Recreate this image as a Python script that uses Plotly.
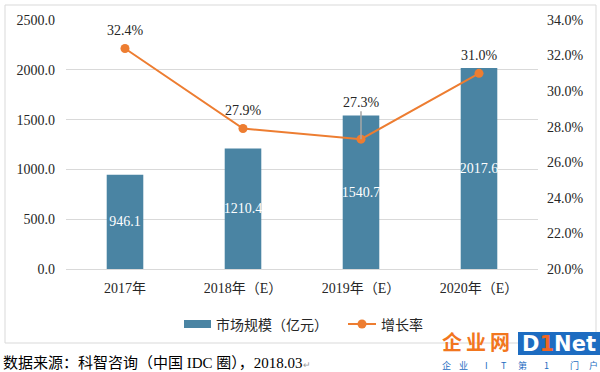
import plotly.graph_objects as go

categories = ["2017年", "2018年（E）", "2019年（E）", "2020年（E）"]
market_size = [946.1, 1210.4, 1540.7, 2017.6]
growth_rate = [32.4, 27.9, 27.3, 31.0]
bar_name = "市场规模（亿元）"
line_name = "增长率"
source_text = "数据来源：科智咨询（中国 IDC 圈），2018.03"
logo_cn = ["企", "业", "网"]
logo_en = "D<span style='color:#F26522'>1</span>Net"
logo_sub = ["企", "业", "I", "T", "第", "1", "门", "户"]

BAR_COLOR = "#4A84A3"
LINE_COLOR = "#ED7D31"
TEXT_COLOR = "#262626"
GRID = "#D9D9D9"
LOGO_BLUE = "#1D6CC1"
SERIF = "'Liberation Serif', 'Times New Roman', serif"
SANS = "'Noto Sans CJK SC', sans-serif"

W, H = 600, 372
L, R, T, B = 66, 538, 20, 269


def px2x(px):
    return (px - L) / (R - L)


def py2y(py):
    return (B - py) / (B - T)


fig = go.Figure()
fig.add_trace(go.Bar(
    x=categories, y=market_size, name=bar_name,
    marker=dict(color=BAR_COLOR, line=dict(width=0)),
    texttemplate="%{y:.1f}", textposition="inside", insidetextanchor="middle",
    textangle=0,
    textfont=dict(family=SERIF, size=14, color="white"),
    showlegend=False, yaxis="y", hoverinfo="skip",
))
fig.add_trace(go.Scatter(
    x=categories, y=growth_rate, name=line_name, mode="lines+markers",
    line=dict(color=LINE_COLOR, width=2),
    marker=dict(color=LINE_COLOR, size=9),
    showlegend=False, yaxis="y2", hoverinfo="skip",
))

annotations = []
for i, (c, v) in enumerate(zip(categories, growth_rate)):
    if i == 2:
        annotations.append(dict(
            x=c, y=v, xref="x", yref="y2", text=f"{v:.1f}%",
            showarrow=True, ax=0, ay=-37, arrowhead=0, arrowwidth=1.5,
            arrowcolor="#A6A6A6", standoff=0,
            font=dict(family=SERIF, size=14, color=TEXT_COLOR),
        ))
    else:
        annotations.append(dict(
            x=c, y=v, xref="x", yref="y2", text=f"{v:.1f}%",
            showarrow=False, yshift=18,
            font=dict(family=SERIF, size=14, color=TEXT_COLOR),
        ))

# legend (manual)
legend_y = py2y(324)
annotations.append(dict(
    x=px2x(214), y=legend_y, xref="paper", yref="paper", text=bar_name,
    showarrow=False, xanchor="left", yanchor="middle",
    font=dict(family=SANS, size=14, color=TEXT_COLOR),
))
annotations.append(dict(
    x=px2x(379), y=legend_y, xref="paper", yref="paper", text=line_name,
    showarrow=False, xanchor="left", yanchor="middle",
    font=dict(family=SANS, size=14, color=TEXT_COLOR),
))
# source footer
annotations.append(dict(
    x=px2x(1), y=py2y(362), xref="paper", yref="paper",
    text=source_text + "<span style='font-size:9px;color:#999'>↵</span>",
    showarrow=False, xanchor="left", yanchor="middle",
    font=dict(family=SERIF + ", 'Noto Sans CJK SC'", size=15, color="#000000"),
))
# watermark logo
for ch, cx in zip(logo_cn, [452, 476, 500]):
    annotations.append(dict(
        x=px2x(cx), y=py2y(341.5), xref="paper", yref="paper",
        text=f"<b>{ch}</b>", showarrow=False, xanchor="center", yanchor="middle",
        borderpad=0,
        font=dict(family=SANS, size=20, color="#F2761E"),
    ))
annotations.append(dict(
    x=px2x(559), y=py2y(343.5), xref="paper", yref="paper",
    text=f"<b>{logo_en}</b>", showarrow=False,
    xanchor="center", yanchor="middle", borderpad=0,
    font=dict(family="'DejaVu Sans', sans-serif", size=21, color="white"),
))
sub_centers = [446, 463, 486, 503.5, 522, 546, 574, 593]
for ch, cx in zip(logo_sub, sub_centers):
    annotations.append(dict(
        x=px2x(cx), y=py2y(365.5), xref="paper", yref="paper",
        text=ch, showarrow=False, xanchor="center", yanchor="middle",
        borderpad=0,
        font=dict(family=SANS, size=9, color=LOGO_BLUE),
    ))

shapes = [
    # outer border
    dict(type="rect", xref="paper", yref="paper",
         x0=px2x(5), x1=px2x(596), y0=py2y(343), y1=py2y(5),
         line=dict(color="#D9D9D9", width=1), fillcolor="rgba(0,0,0,0)", layer="below"),
    # legend bar swatch
    dict(type="rect", xref="paper", yref="paper",
         x0=px2x(184), x1=px2x(211), y0=py2y(328), y1=py2y(320),
         line=dict(width=0), fillcolor=BAR_COLOR),
    # legend line swatch
    dict(type="line", xref="paper", yref="paper",
         x0=px2x(348), x1=px2x(376), y0=legend_y, y1=legend_y,
         line=dict(color=LINE_COLOR, width=2)),
    dict(type="circle", xref="paper", yref="paper",
         x0=px2x(357.5), x1=px2x(366.5), y0=py2y(328.5), y1=py2y(319.5),
         line=dict(width=0), fillcolor=LINE_COLOR),
    # logo blue box
    dict(type="rect", xref="paper", yref="paper",
         x0=px2x(518), x1=px2x(600), y0=py2y(355), y1=py2y(332),
         line=dict(width=0), fillcolor=LOGO_BLUE, layer="above"),
]

fig.update_layout(
    width=W, height=H,
    margin=dict(l=L, r=W - R, t=T, b=H - B),
    paper_bgcolor="white", plot_bgcolor="white",
    bargap=0.69,
    uniformtext=dict(minsize=14, mode="show"),
    xaxis=dict(
        showgrid=False, showline=True, linecolor=GRID, linewidth=1,
        ticks="", ticklabelstandoff=6,
        tickfont=dict(family=SERIF + ", 'Noto Sans CJK SC'", size=14, color=TEXT_COLOR),
    ),
    yaxis=dict(
        range=[0, 2500], dtick=500, tickformat=".1f",
        showgrid=True, gridcolor=GRID, gridwidth=1, zeroline=False,
        showline=False, ticks="", ticklabelstandoff=10,
        tickfont=dict(family=SERIF, size=14, color=TEXT_COLOR),
    ),
    yaxis2=dict(
        range=[20, 34], dtick=2, tickformat=".1f", ticksuffix="%",
        overlaying="y", side="right", showgrid=False, zeroline=False,
        showline=False, ticks="", ticklabelstandoff=8,
        tickfont=dict(family=SERIF, size=14, color=TEXT_COLOR),
    ),
    annotations=annotations,
    shapes=shapes,
    showlegend=False,
    hovermode=False,
)

fig.write_html(
    "out.html",
    config={"displayModeBar": False},
    post_script="document.body.style.margin='0';document.body.style.overflow='hidden';",
)
